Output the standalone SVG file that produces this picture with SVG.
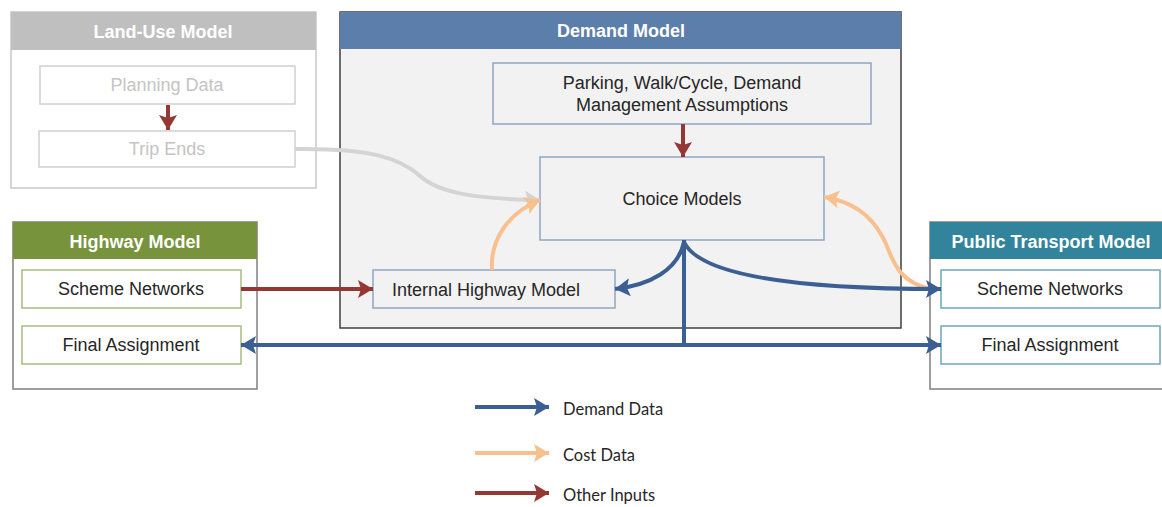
<svg xmlns="http://www.w3.org/2000/svg" width="1162" height="507" viewBox="0 0 1162 507">
<defs>
<style>
text{font-family:"Liberation Sans",Arial,sans-serif;font-size:18px;fill:#262626;text-anchor:middle;dominant-baseline:central}
.title{font-weight:bold;fill:#ffffff;font-size:18px}
.lu{fill:#c4c4c4}
.leg{font-family:Lato,"Open Sans",sans-serif;font-size:16.5px;text-anchor:start}
.blue{stroke:#3c5f93;stroke-width:4;fill:none}
.red{stroke:#953735;stroke-width:4;fill:none}
.org{stroke:#f9c08f;stroke-width:4;fill:none}
.gry{stroke:#d4d4d4;stroke-width:4;fill:none}
</style>
<marker id="hb" markerUnits="userSpaceOnUse" markerWidth="16" markerHeight="18" refX="15" refY="9" orient="auto"><path d="M0,0 L15,9 L0,18 L3,9 z" fill="#3c5f93"/></marker>
<marker id="hr" markerUnits="userSpaceOnUse" markerWidth="16" markerHeight="18" refX="15" refY="9" orient="auto"><path d="M0,0 L15,9 L0,18 L3,9 z" fill="#953735"/></marker>
<marker id="ho" markerUnits="userSpaceOnUse" markerWidth="16" markerHeight="18" refX="15" refY="9" orient="auto"><path d="M0,0 L15,9 L0,18 L3,9 z" fill="#f9c08f"/></marker>
<marker id="hg" markerUnits="userSpaceOnUse" markerWidth="16" markerHeight="18" refX="15" refY="9" orient="auto"><path d="M0,0 L15,9 L0,18 L3,9 z" fill="#d4d4d4"/></marker>
</defs>
<rect width="1162" height="507" fill="#ffffff"/>

<g id="landuse">
<rect x="11" y="12" width="305" height="176" fill="#ffffff" stroke="#c8c8c8" stroke-width="1.5"/>
<rect x="11" y="12" width="305" height="38" fill="#bfbfbf"/>
<text x="163" y="32" class="title">Land-Use Model</text>
</g>
<g id="planning">
<rect x="40" y="66" width="255" height="38" fill="#ffffff" stroke="#d0d0d0" stroke-width="1.5"/>
<text x="167" y="85" class="lu">Planning Data</text>
</g>
<g id="tripends">
<rect x="39" y="131" width="256" height="36" fill="#ffffff" stroke="#d0d0d0" stroke-width="1.5"/>
<text x="167" y="149" class="lu">Trip Ends</text>
</g>

<g id="demand">
<rect x="340" y="12" width="561" height="316" fill="#f2f2f2" stroke="#3f3f3f" stroke-width="1.5"/>
<rect x="340" y="12" width="561" height="37" fill="#5b7eaa"/>
<text x="621" y="31" class="title">Demand Model</text>
</g>
<g id="parking">
<rect x="493" y="63" width="378" height="61" fill="#f2f2f2" stroke="#8ea6c6" stroke-width="1.5"/>
<text x="682" y="83">Parking, Walk/Cycle,  Demand</text>
<text x="682" y="105">Management Assumptions</text>
</g>
<g id="choice">
<rect x="540" y="157" width="284" height="83" fill="#f2f2f2" stroke="#8ea6c6" stroke-width="1.5"/>
<text x="682" y="199">Choice Models</text>
</g>
<g id="internal">
<rect x="373" y="270" width="242" height="38" fill="#f2f2f2" stroke="#8ea6c6" stroke-width="1.5"/>
<text x="486" y="290">Internal Highway Model</text>
</g>

<g id="highway">
<rect x="13" y="222" width="244" height="167" fill="#ffffff" stroke="#7f7f7f" stroke-width="1.5"/>
<rect x="13" y="222" width="244" height="37" fill="#77933c"/>
<text x="135" y="242" class="title">Highway Model</text>
</g>
<g id="hw-scheme">
<rect x="22" y="270" width="219" height="38" fill="#ffffff" stroke="#a9bd80" stroke-width="1.5"/>
<text x="131" y="289">Scheme Networks</text>
</g>
<g id="hw-final">
<rect x="22" y="326" width="219" height="38" fill="#ffffff" stroke="#a9bd80" stroke-width="1.5"/>
<text x="131" y="345">Final Assignment</text>
</g>

<g id="pt">
<rect x="930" y="222" width="240" height="167" fill="#ffffff" stroke="#7f7f7f" stroke-width="1.5"/>
<rect x="930" y="222" width="240" height="37" fill="#31849b"/>
<text x="1051" y="242" class="title">Public Transport Model</text>
</g>
<g id="pt-scheme">
<rect x="941" y="270" width="219" height="38" fill="#ffffff" stroke="#6ea7b8" stroke-width="1.5"/>
<text x="1050" y="289">Scheme Networks</text>
</g>
<g id="pt-final">
<rect x="941" y="326" width="219" height="38" fill="#ffffff" stroke="#6ea7b8" stroke-width="1.5"/>
<text x="1050" y="345">Final Assignment</text>
</g>

<g id="connectors">
<path class="red" d="M168,105 L168,130" marker-end="url(#hr)"/>
<path class="red" d="M683,124 L683,157" marker-end="url(#hr)"/>
<path class="red" d="M241,289 L373,289" marker-end="url(#hr)"/>
<path class="gry" d="M295,149 C370,148 400,158 420,176 C440,194 480,199 540,200" marker-end="url(#hg)"/>
<path class="org" d="M492,270 C490,238 510,212 540,200" marker-end="url(#ho)"/>
<path class="org" d="M930,289 C892,280 892,252 882,236 C870,214 850,201 824,197" marker-end="url(#ho)"/>
<path class="blue" d="M684,240 L684,345"/>
<path class="blue" d="M684,345 L241,345" marker-end="url(#hb)"/>
<path class="blue" d="M684,345 L941,345" marker-end="url(#hb)"/>
<path class="blue" d="M684,242 C678,270 650,285 615,289" marker-end="url(#hb)"/>
<path class="blue" d="M684,242 C700,276 800,289 941,289" marker-end="url(#hb)"/>
</g>

<g id="legend">
<path class="blue" d="M475,407 L549,407" marker-end="url(#hb)"/>
<path class="org" d="M475,453 L549,453" marker-end="url(#ho)"/>
<path class="red" d="M475,493 L549,493" marker-end="url(#hr)"/>
<text x="563" y="409" class="leg">Demand Data</text>
<text x="563" y="455" class="leg">Cost Data</text>
<text x="563" y="495" class="leg">Other Inputs</text>
</g>
</svg>
